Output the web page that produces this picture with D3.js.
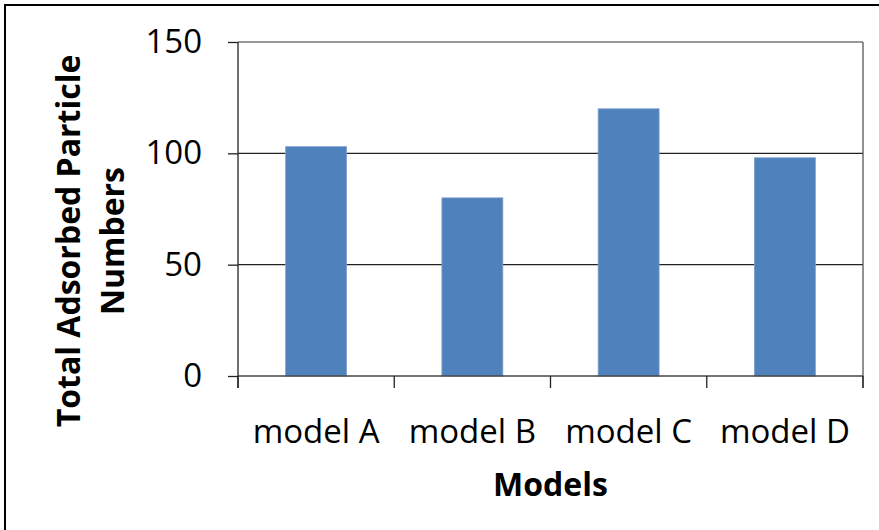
<!DOCTYPE html>
<html>
<head>
<meta charset="utf-8">
<script src="https://cdn.jsdelivr.net/npm/d3@7"></script>
<style>
  body { margin: 0; background: #fff; }
  svg { display: block; font-family: "Open Sans", "Noto Sans", sans-serif; }
</style>
</head>
<body>
<div id="chart"></div>
<script>
/* DATA */
const models = ["model A", "model B", "model C", "model D"];
const particles = [103, 80, 120, 98];
const yTicks = [0, 50, 100, 150];

/* LAYOUT */
const width = 879,
  height = 530,
  margin = { top: 42, bottom: 154, left: 238, right: 16 };

const svg = d3.select("#chart")
  .append("svg")
  .attr("width", width)
  .attr("height", height);

// outer frame (runs off the right and bottom edges)
svg.append("rect")
  .attr("x", 5)
  .attr("y", 5)
  .attr("width", 1000)
  .attr("height", 800)
  .attr("fill", "none")
  .attr("stroke", "#000")
  .attr("stroke-width", 2);

const xScale = d3.scaleBand()
  .domain(models)
  .range([margin.left, width - margin.right])
  .paddingInner(0.61)
  .paddingOuter(0.305);

const yScale = d3.scaleLinear()
  .domain([0, 150])
  .range([height - margin.bottom, margin.top]);

// gridlines
svg.append("g")
  .selectAll("line")
  .data(yTicks.filter(d => d > 0))
  .join("line")
  .attr("x1", margin.left)
  .attr("x2", width - margin.right)
  .attr("y1", d => yScale(d))
  .attr("y2", d => yScale(d))
  .attr("stroke", d => d === 150 ? "#777" : "#222")
  .attr("stroke-width", 1.3);

// bars
svg.append("g")
  .selectAll("rect")
  .data(particles)
  .join("rect")
  .attr("x", (d, i) => xScale(models[i]))
  .attr("width", xScale.bandwidth())
  .attr("y", d => yScale(d))
  .attr("height", d => yScale(0) - yScale(d))
  .attr("fill", "#4F81BD")
  .attr("stroke", "#7f9fcf")
  .attr("stroke-width", 0.8);

// right border of plot area
svg.append("line")
  .attr("x1", width - margin.right)
  .attr("x2", width - margin.right)
  .attr("y1", margin.top)
  .attr("y2", yScale(0) + 12)
  .attr("stroke", "#555")
  .attr("stroke-width", 1.3);

// y axis
const yAxis = d3.axisLeft(yScale)
  .tickValues(yTicks)
  .tickSize(10)
  .tickPadding(26);

const yAxisGroup = svg.append("g")
  .attr("transform", `translate(${margin.left},0)`)
  .call(yAxis);

yAxisGroup.select(".domain")
  .attr("d", `M0,${margin.top}V${yScale(0) + 12}`)
  .attr("stroke", "#222")
  .attr("stroke-width", 1.3);
yAxisGroup.selectAll(".tick line").attr("stroke", "#222").attr("stroke-width", 1.3);
yAxisGroup.selectAll(".tick text")
  .attr("font-size", 33)
  .attr("font-family", "'Open Sans', sans-serif")
  .attr("fill", "#000");

// x axis (ticks between categories)
svg.append("line")
  .attr("x1", margin.left)
  .attr("x2", width - margin.right)
  .attr("y1", yScale(0))
  .attr("y2", yScale(0))
  .attr("stroke", "#444")
  .attr("stroke-width", 1.5);

svg.append("g")
  .selectAll("line")
  .data(d3.range(models.length + 1))
  .join("line")
  .attr("x1", i => margin.left + i * (width - margin.right - margin.left) / models.length)
  .attr("x2", i => margin.left + i * (width - margin.right - margin.left) / models.length)
  .attr("y1", yScale(0))
  .attr("y2", yScale(0) + 12)
  .attr("stroke", "#222")
  .attr("stroke-width", 1.3);

svg.append("g")
  .selectAll("text")
  .data(models)
  .join("text")
  .attr("x", d => xScale(d) + xScale.bandwidth() / 2)
  .attr("y", yScale(0) + 67)
  .attr("text-anchor", "middle")
  .attr("font-size", 33)
  .attr("fill", "#000")
  .text(d => d);

// axis titles
svg.append("text")
  .attr("x", (margin.left + width - margin.right) / 2)
  .attr("y", 496)
  .attr("text-anchor", "middle")
  .attr("font-size", 32)
  .attr("font-weight", "bold")
  .text("Models");

const yTitle = svg.append("text")
  .attr("transform", `translate(80,${(margin.top + yScale(0)) / 2 + 32}) rotate(-90)`)
  .attr("text-anchor", "middle")
  .attr("font-size", 32)
  .attr("font-weight", "bold");

yTitle.append("tspan").attr("x", 0).attr("dy", 0).text("Total Adsorbed Particle");
yTitle.append("tspan").attr("x", 0).attr("dy", 44).text("Numbers");
</script>
</body>
</html>
